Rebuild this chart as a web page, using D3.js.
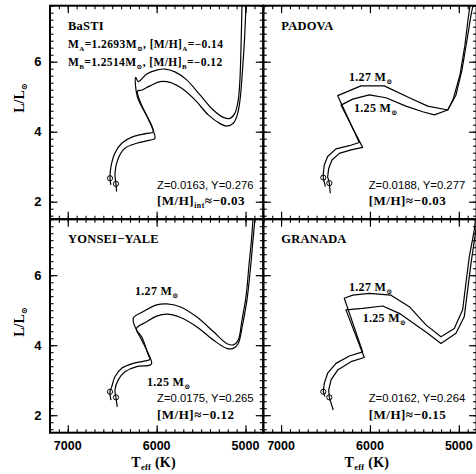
<!DOCTYPE html>
<html><head><meta charset="utf-8">
<script src="https://cdn.jsdelivr.net/npm/d3@7"></script>
<style>body{margin:0;background:#fff}</style>
</head><body>
<svg id="c" width="476" height="474" xmlns="http://www.w3.org/2000/svg"></svg>
<script>
// ---------------- data ----------------
const tempDomain = [7200, 4800];
const lumDomain = [1.5, 7.6];
const xTickLabels = [7000, 6000, 5000];
const yTickLabels = [2, 4, 6];
const panelNames = ["BaSTI", "PADOVA", "YONSEI\u2212YALE", "GRANADA"];
const compositions = ["Z=0.0163, Y=0.276", "Z=0.0188, Y=0.277", "Z=0.0175, Y=0.265", "Z=0.0162, Y=0.264"];
const metallicities = ["\u22120.03", "\u22120.03", "\u22120.12", "\u22120.15"];
const massLabels = ["1.27", "1.25"];
const bastiMasses = ["1.2693", "1.2514"];
const bastiMH = ["\u22120.14", "\u22120.12"];

// tracks: [Teff, L/Lsun]
const bastiA = [[6515,2.48],[6525,2.67],[6514,3.00],[6469,3.39],[6393,3.67],[6266,3.86],[6112,3.95],[6038,4.00],
  [6218,5.00],[6236,5.55],[6207,5.43],[6112,5.65],[6000,5.76],[5906,5.79],[5794,5.71],[5662,5.48],[5512,5.05],
  [5363,4.62],[5250,4.41],[5175,4.38],[5119,4.53],[5082,4.91],[5063,5.48],[5051,6.40],[5040,7.6]];
const bastiB = [[6450,2.29],[6458,2.51],[6469,2.82],[6432,3.24],[6356,3.53],[6225,3.67],[6075,3.76],[6019,3.81],
  [6193,4.91],[6216,5.16],[6165,5.19],[6075,5.31],[5962,5.43],[5850,5.41],[5718,5.24],[5569,4.91],[5419,4.48],
  [5287,4.23],[5212,4.16],[5138,4.24],[5093,4.48],[5062,4.91],[5034,5.76],[5012,6.62],[4995,7.6]];
const padovaA = [[6502,2.43],[6525,2.69],[6525,2.81],[6514,3.05],[6476,3.29],[6382,3.51],[6232,3.60],[6120,3.69],
  [6363,5.03],[6101,5.31],[5839,5.31],[5557,4.97],[5350,4.73],[5125,4.62],[5066,4.91],[4987,5.62],[4931,6.48],
  [4897,7.19],[4875,7.6]];
const padovaB = [[6446,2.24],[6457,2.53],[6476,2.71],[6464,2.95],[6427,3.19],[6345,3.38],[6213,3.48],[6082,3.55],
  [6326,4.76],[6194,4.93],[6007,5.05],[5820,4.97],[5595,4.73],[5407,4.57],[5276,4.48],[5125,4.62],[5032,5.05],
  [4965,5.76],[4908,6.62],[4863,7.33],[4841,7.6]];
const yyA = [[6514,2.43],[6525,2.67],[6506,2.81],[6469,3.10],[6393,3.34],[6263,3.48],[6131,3.55],[6075,3.60],
  [6094,3.72],[6168,4.24],[6225,4.43],[6263,4.77],[6150,4.96],[6000,5.15],[5887,5.18],[5737,5.10],[5550,4.81],
  [5363,4.39],[5212,4.05],[5138,4.01],[5082,4.15],[5040,4.72],[4995,5.38],[4961,6.29],[4933,7.01],[4916,7.6]];
const yyB = [[6443,2.24],[6458,2.51],[6469,2.72],[6432,3.01],[6356,3.24],[6225,3.39],[6075,3.43],[6056,3.48],
  [6112,3.86],[6187,4.24],[6227,4.48],[6112,4.67],[6000,4.83],[5887,4.89],[5737,4.80],[5550,4.53],[5363,4.15],
  [5212,3.91],[5138,3.91],[5082,4.05],[5034,4.58],[4984,5.29],[4944,6.21],[4916,7.01],[4894,7.6]];
const granadaA = [[6506,2.53],[6525,2.67],[6514,2.91],[6476,3.20],[6382,3.48],[6232,3.69],[6082,3.81],
  [6289,5.34],[6194,5.43],[6007,5.48],[5763,5.43],[5557,5.10],[5370,4.58],[5201,4.24],[5051,4.48],[4957,5.01],
  [4920,5.77],[4882,6.53],[4826,7.29],[4813,7.6]];
const granadaB = [[6413,2.15],[6457,2.51],[6464,2.72],[6438,3.01],[6363,3.29],[6213,3.53],[6064,3.65],
  [6270,5.01],[6082,5.05],[5857,5.12],[5670,4.91],[5482,4.58],[5351,4.34],[5201,4.05],[5032,4.34],[4939,4.81],
  [4901,5.58],[4863,6.34],[4808,7.29],[4795,7.6]];
// ZAMS markers
const zamsBasti = [[6525,2.67],[6458,2.51]];
const zamsPadova = [[6525,2.69],[6457,2.53]];
const zamsYY = [[6525,2.67],[6458,2.51]];
const zamsGranada = [[6525,2.67],[6457,2.51]];

// ---------------- layout ----------------
const svg = d3.select("#c");
const XL = [50, 263.3], XR = [263.3, 476.6];
const YT = [5.7, 219.2], YB = [219.2, 432.7];
const serif = "'Liberation Serif', 'DejaVu Serif', serif";
const sans = "'Liberation Sans', Arial, sans-serif";
const smooth = d3.curveCatmullRom.alpha(0.5);

const panels = [
  {xr: XL, yr: YT, tracks: [bastiA, bastiB], zams: zamsBasti, curve: smooth, left: true, bottom: false, ylab: 98},
  {xr: XR, yr: YT, tracks: [padovaA, padovaB], zams: zamsPadova, curve: d3.curveLinear, left: false, bottom: false},
  {xr: XL, yr: YB, tracks: [yyA, yyB], zams: zamsYY, curve: smooth, left: true, bottom: true, ylab: 322},
  {xr: XR, yr: YB, tracks: [granadaA, granadaB], zams: zamsGranada, curve: d3.curveLinear, left: false, bottom: true}
];

const defs = svg.append("defs");

function addText(g, x, y, parts, opts) {
  const t = g.append("text").attr("x", x).attr("y", y)
    .attr("font-family", opts.family).attr("font-size", opts.size)
    .attr("font-weight", opts.weight || "normal").attr("fill", "#000");
  if (opts.anchor) t.attr("text-anchor", opts.anchor);
  if (opts.spacing) t.attr("letter-spacing", opts.spacing);
  let shifted = 0;
  parts.forEach(p => {
    const s = t.append("tspan").text(p.t);
    if (p.sub) {
      s.attr("font-size", opts.size * 0.6).attr("dy", 3 - shifted);
      shifted = 3;
    } else if (shifted) {
      s.attr("dy", -shifted);
      shifted = 0;
    }
  });
  return t;
}

const minorX = d3.range(48, 73).map(i => i * 100);
const minorY = d3.range(8, 39).map(i => i / 5);

panels.forEach((p, i) => {
  const x = d3.scaleLinear().domain(tempDomain).range(p.xr);
  const y = d3.scaleLinear().domain(lumDomain).range([p.yr[1], p.yr[0]]);
  const g = svg.append("g");
  const cid = "clip" + i;
  defs.append("clipPath").attr("id", cid).append("rect")
    .attr("x", p.xr[0]).attr("y", p.yr[0]).attr("width", p.xr[1] - p.xr[0]).attr("height", p.yr[1] - p.yr[0]);

  const line = d3.line().x(d => x(d[0])).y(d => y(d[1])).curve(p.curve);
  const tg = g.append("g").attr("clip-path", `url(#${cid})`);
  p.tracks.forEach(tr => {
    tg.append("path").attr("d", line(tr)).attr("fill", "none").attr("stroke", "#000")
      .attr("stroke-width", 1.2).attr("stroke-linejoin", "round");
  });
  p.zams.forEach(z => {
    tg.append("circle").attr("cx", x(z[0])).attr("cy", y(z[1])).attr("r", 2.6)
      .attr("fill", "none").attr("stroke", "#000").attr("stroke-width", 1);
  });

  // axes (ticks inward on all sides)
  const axes = [
    [d3.axisBottom(x), `translate(0,${p.yr[1]})`, minorX, xTickLabels],
    [d3.axisTop(x), `translate(0,${p.yr[0]})`, minorX, xTickLabels],
    [d3.axisLeft(y), `translate(${p.xr[0]},0)`, minorY, yTickLabels],
    [d3.axisRight(y), `translate(${p.xr[1]},0)`, minorY, yTickLabels]
  ];
  axes.forEach(([ax, tf, minor, major]) => {
    const a1 = g.append("g").attr("transform", tf)
      .call(ax.tickValues(minor).tickSize(-3.5).tickFormat(""));
    a1.select(".domain").remove();
    a1.selectAll("line").attr("stroke-width", 1.1);
    const a2 = g.append("g").attr("transform", tf)
      .call(ax.tickValues(major).tickSize(-7.5).tickFormat(""));
    a2.select(".domain").remove();
    a2.selectAll("line").attr("stroke-width", 1.2);
  });

  g.append("rect").attr("x", p.xr[0]).attr("y", p.yr[0])
    .attr("width", p.xr[1] - p.xr[0]).attr("height", p.yr[1] - p.yr[0])
    .attr("fill", "none").attr("stroke", "#000").attr("stroke-width", 2);

  if (p.left) {
    yTickLabels.forEach(v => {
      g.append("text").attr("x", p.xr[0] - 8.5).attr("y", y(v) + 4.6).attr("text-anchor", "end")
        .attr("font-family", sans).attr("font-weight", "bold").attr("font-size", 13).text(v);
    });
    const yl = g.append("g").attr("transform", `translate(${24},${p.ylab}) rotate(-90)`);
    addText(yl, 0, 0, [{t: "L/L"}, {t: "\u2299", sub: true}], {family: serif, size: 14, weight: "bold", anchor: "middle"});
  }
  if (p.bottom) {
    xTickLabels.forEach(v => {
      g.append("text").attr("x", x(v)).attr("y", p.yr[1] + 17).attr("text-anchor", "middle")
        .attr("font-family", sans).attr("font-weight", "bold").attr("font-size", 12.5).text(v);
    });
    const cx = (p.xr[0] + p.xr[1]) / 2 - 3;
    addText(g, cx, 467, [{t: "T"}, {t: "eff", sub: true}, {t: " (K)"}], {family: serif, size: 14, weight: "bold", anchor: "middle", spacing: 0.3});
  }

  // panel name
  addText(g, p.xr[0] + 18, p.yr[0] + 24, [{t: panelNames[i]}], {family: serif, size: 12.5, weight: "bold", spacing: 0.2});
  // composition
  const cx0 = p.xr[0] + (i % 2 === 0 ? 107 : 105.4);
  addText(g, cx0, p.yr[0] + 183, [{t: compositions[i]}], {family: sans, size: 11.3});
  const mh = i === 0
    ? [{t: "[M/H]"}, {t: "int", sub: true}, {t: "\u2248" + metallicities[i]}]
    : [{t: "[M/H]\u2248" + metallicities[i]}];
  addText(g, cx0, p.yr[0] + 199.5, mh, {family: serif, size: 13, weight: "bold", spacing: 0.5});
});

// BaSTI mass lines
const g0 = svg.append("g");
["A", "B"].forEach((k, j) => {
  addText(g0, 68, 47.5 + j * 18, [
    {t: "M"}, {t: k, sub: true}, {t: "=" + bastiMasses[j] + "M"}, {t: "\u2299", sub: true},
    {t: ", [M/H]"}, {t: k, sub: true}, {t: "=" + bastiMH[j]}
  ], {family: serif, size: 11.5, weight: "bold", spacing: 0.4});
});

// mass labels for the other panels
const massPos = [
  [349, 81, 354, 112],     // PADOVA
  [135, 295, 147, 386],    // YONSEI-YALE
  [349, 291, 362.7, 321.5] // GRANADA
];
massPos.forEach(mp => {
  [0, 1].forEach(j => {
    addText(g0, mp[j * 2], mp[j * 2 + 1], [{t: massLabels[j] + " M"}, {t: "\u2299", sub: true}],
      {family: serif, size: 12, weight: "bold", spacing: 0.3});
  });
});
</script>
</body></html>
